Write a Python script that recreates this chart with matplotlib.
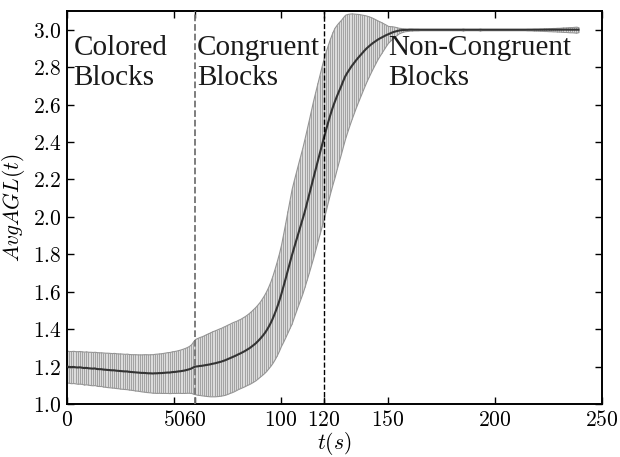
import matplotlib
matplotlib.use("Agg")
import matplotlib.pyplot as plt
from matplotlib import ticker
import numpy as np

# time in seconds, one sample per second
t_sec = np.arange(0, 240)

# mean AvgAGL(t)
avg_agl = [
    1.200, 1.198, 1.197, 1.198, 1.196, 1.195, 1.196, 1.194, 1.192, 1.193,
    1.191, 1.190, 1.189, 1.190, 1.187, 1.186, 1.186, 1.184, 1.183, 1.182,
    1.181, 1.180, 1.180, 1.178, 1.177, 1.176, 1.175, 1.174, 1.174, 1.172,
    1.171, 1.170, 1.169, 1.168, 1.167, 1.166, 1.166, 1.165, 1.164, 1.164,
    1.163, 1.164, 1.164, 1.165, 1.165, 1.166, 1.167, 1.168, 1.168, 1.170,
    1.171, 1.172, 1.174, 1.175, 1.177, 1.179, 1.182, 1.185, 1.189, 1.195,
    1.200, 1.201, 1.203, 1.204, 1.206, 1.208, 1.210, 1.212, 1.215, 1.217,
    1.220, 1.223, 1.226, 1.230, 1.234, 1.239, 1.244, 1.249, 1.254, 1.259,
    1.265, 1.270, 1.276, 1.282, 1.289, 1.296, 1.304, 1.313, 1.322, 1.333,
    1.345, 1.358, 1.372, 1.388, 1.407, 1.428, 1.452, 1.480, 1.510, 1.543,
    1.580, 1.620, 1.662, 1.705, 1.748, 1.790, 1.830, 1.868, 1.906, 1.943,
    1.980, 2.022, 2.066, 2.110, 2.155, 2.200, 2.245, 2.289, 2.333, 2.377,
    2.420, 2.462, 2.503, 2.542, 2.578, 2.610, 2.640, 2.668, 2.694, 2.723,
    2.750, 2.770, 2.788, 2.805, 2.820, 2.835, 2.849, 2.862, 2.875, 2.888,
    2.900, 2.910, 2.920, 2.929, 2.937, 2.945, 2.952, 2.958, 2.964, 2.970,
    2.975, 2.980, 2.985, 2.989, 2.992, 2.995, 2.997, 2.998, 2.999, 2.999,
    3.000, 3.000, 3.000, 3.000, 3.000, 3.000, 3.000, 3.000, 3.000, 3.000,
    3.000, 3.000, 3.000, 3.000, 3.000, 3.000, 3.000, 3.000, 3.000, 3.000,
    3.000, 3.000, 3.000, 3.000, 3.000, 3.000, 3.000, 3.000, 3.000, 3.000,
    3.000, 3.000, 3.000, 3.000, 3.000, 3.000, 3.000, 3.000, 3.000, 3.000,
    3.000, 3.000, 3.000, 3.000, 3.000, 3.000, 3.000, 3.000, 3.000, 3.000,
    3.000, 3.000, 3.000, 3.000, 3.000, 3.000, 3.000, 3.000, 3.000, 3.000,
    3.000, 3.000, 3.000, 3.000, 3.000, 3.000, 3.000, 3.000, 3.000, 3.000,
    3.000, 3.000, 3.000, 3.000, 3.000, 3.000, 3.000, 3.000, 3.000, 3.000,
]

# standard deviation (error bar half height)
std_agl = [
    0.085, 0.085, 0.086, 0.086, 0.086, 0.087, 0.087, 0.087, 0.088, 0.088,
    0.088, 0.089, 0.089, 0.089, 0.090, 0.090, 0.090, 0.091, 0.091, 0.092,
    0.092, 0.092, 0.093, 0.093, 0.093, 0.094, 0.094, 0.094, 0.095, 0.095,
    0.095, 0.096, 0.097, 0.097, 0.098, 0.099, 0.100, 0.101, 0.101, 0.102,
    0.103, 0.104, 0.105, 0.105, 0.106, 0.107, 0.108, 0.109, 0.110, 0.111,
    0.112, 0.113, 0.114, 0.116, 0.118, 0.120, 0.122, 0.125, 0.130, 0.140,
    0.148, 0.152, 0.155, 0.158, 0.161, 0.165, 0.168, 0.171, 0.174, 0.176,
    0.178, 0.180, 0.181, 0.183, 0.184, 0.185, 0.185, 0.186, 0.186, 0.185,
    0.185, 0.185, 0.186, 0.187, 0.188, 0.190, 0.192, 0.194, 0.196, 0.198,
    0.200, 0.204, 0.208, 0.213, 0.218, 0.225, 0.233, 0.242, 0.251, 0.260,
    0.270, 0.288, 0.306, 0.324, 0.342, 0.360, 0.366, 0.372, 0.378, 0.384,
    0.390, 0.396, 0.402, 0.408, 0.414, 0.420, 0.422, 0.424, 0.426, 0.428,
    0.430, 0.425, 0.419, 0.413, 0.407, 0.400, 0.386, 0.372, 0.358, 0.344,
    0.330, 0.314, 0.298, 0.282, 0.266, 0.250, 0.235, 0.220, 0.205, 0.190,
    0.175, 0.161, 0.147, 0.133, 0.119, 0.105, 0.093, 0.081, 0.069, 0.057,
    0.045, 0.039, 0.033, 0.027, 0.021, 0.015, 0.012, 0.009, 0.007, 0.006,
    0.005, 0.005, 0.004, 0.004, 0.004, 0.003, 0.003, 0.003, 0.003, 0.003,
    0.003, 0.003, 0.003, 0.003, 0.003, 0.003, 0.003, 0.003, 0.003, 0.003,
    0.003, 0.003, 0.003, 0.003, 0.003, 0.005, 0.003, 0.003, 0.003, 0.003,
    0.003, 0.003, 0.003, 0.005, 0.003, 0.003, 0.003, 0.003, 0.003, 0.003,
    0.003, 0.003, 0.003, 0.003, 0.003, 0.003, 0.003, 0.003, 0.003, 0.003,
    0.003, 0.003, 0.003, 0.003, 0.003, 0.004, 0.004, 0.004, 0.005, 0.005,
    0.005, 0.006, 0.006, 0.007, 0.007, 0.008, 0.008, 0.009, 0.009, 0.010,
    0.010, 0.011, 0.012, 0.012, 0.013, 0.014, 0.014, 0.015, 0.016, 0.013,
]

block_edges = [60, 120]
block_names = ["Colored\nBlocks", "Congruent\nBlocks", "Non-Congruent\nBlocks"]
block_text_x = [3, 60.8, 150]
x_ticks = [0, 50, 60, 100, 120, 150, 200, 250]
y_ticks = [1.0, 1.2, 1.4, 1.6, 1.8, 2.0, 2.2, 2.4, 2.6, 2.8, 3.0]

plt.rcParams['mathtext.fontset'] = 'cm'

mean = np.array(avg_agl)
std = np.array(std_agl)

fig = plt.figure(figsize=(6.2, 4.57), dpi=100)
ax = fig.add_axes([0.108, 0.116, 0.863, 0.860])

ax.fill_between(t_sec, mean - std, mean + std, facecolor='0.86',
                edgecolor='0.58', linewidth=0.8, zorder=1)
ax.errorbar(t_sec, mean, yerr=std, fmt='none', ecolor='0.6',
            elinewidth=0.6, zorder=2)
ax.plot(t_sec, mean, color='0.2', linewidth=1.5, zorder=3)

ax.axvline(block_edges[0], color='0.45', linestyle='--', linewidth=1.3, zorder=4)
ax.axvline(block_edges[1], color='k', linestyle='--', linewidth=1.0, zorder=4)

for x, name in zip(block_text_x, block_names):
    ax.text(x, 2.972, name, fontsize=21, family='Liberation Serif',
            va='top', ha='left', linespacing=1.22, color='0.1')

ax.set_xlim(0, 250)
ax.set_ylim(1.0, 3.1)
ax.set_xticks(x_ticks)
ax.set_yticks(y_ticks)
ax.xaxis.set_major_formatter(ticker.FuncFormatter(lambda v, p: r'$%d$' % v))
ax.yaxis.set_major_formatter(ticker.FuncFormatter(lambda v, p: r'$%.1f$' % v))
ax.tick_params(direction='in', top=True, right=True, length=5, width=1,
               labelsize=15.5, pad=4)
for s in ax.spines.values():
    s.set_linewidth(1.4)

ax.set_xlabel(r'$t(s)$', fontsize=15.5, labelpad=0)
ax.set_ylabel(r'$AvgAGL(t)$', fontsize=15.5, labelpad=4)

fig.savefig('out.png', dpi=100)
